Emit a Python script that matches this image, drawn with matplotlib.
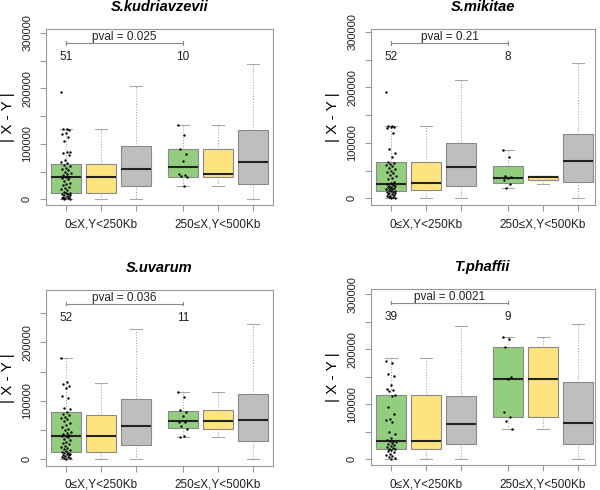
import numpy as np
import matplotlib
matplotlib.use('Agg')
import matplotlib.pyplot as plt
from matplotlib import transforms
from matplotlib.ticker import MultipleLocator, FuncFormatter

plt.rcParams['font.family'] = ['Liberation Sans', 'DejaVu Sans']

# Panel info
species = ['S.kudriavzevii', 'S.mikitae', 'S.uvarum', 'T.phaffii']
group_labels = ['0≤X,Y<250Kb', '250≤X,Y<500Kb']
pvals = ['0.025', '0.21', '0.036', '0.0021']
counts = [(51, 10), (52, 8), (52, 11), (39, 9)]
ylims = [(-10300, 306300), (-12100, 304500), (-11500, 289900), (-10900, 309700)]

# Box stats (whislo, q1, med, q3, whishi): green, yellow, gray for each group
kud_boxes = [(0, 11400, 39700, 64300, 126800), (0, 11400, 39700, 64300, 126800),
             (0, 23400, 55300, 96200, 205000),
             (23400, 40900, 57700, 90200, 134600), (23400, 40900, 46300, 90200, 134600),
             (0, 27600, 66700, 124400, 244000)]
mik_boxes = [(0, 13800, 25200, 65400, 130800), (1200, 15000, 27000, 65400, 130800),
             (0, 22200, 55800, 99000, 213000),
             (19200, 28200, 37200, 57600, 87000), (25200, 32400, 38400, 40200, 40200),
             (0, 29400, 67200, 115800, 243000)]
uva_boxes = [(0, 12600, 39500, 80700, 173900), (0, 12600, 38900, 74900, 131000),
             (0, 24000, 57200, 103500, 223000),
             (37800, 53800, 65200, 82900, 115500), (37800, 50900, 65200, 84100, 115500),
             (0, 30300, 66400, 111000, 232200)]
pha_boxes = [(0, 18800, 32800, 116000, 184000), (0, 18800, 32800, 116000, 184000),
             (0, 27900, 63200, 114200, 243000),
             (54100, 77200, 145200, 204700, 221700), (54100, 77200, 145200, 204700, 221700),
             (0, 26700, 65600, 140300, 246600)]

# Individual points of the green boxes (thousands)
kud_pts_1 = [194, 127, 126, 124, 120, 117, 113, 105, 86, 85, 83, 80, 71, 68, 66, 62, 60, 57,
             55, 52, 50, 47, 45, 43, 41, 40, 38, 36, 33, 30, 27, 25, 22, 20, 18, 16, 14, 12,
             11, 10, 9, 8, 7, 6, 5, 4, 3, 2, 1.5, 1, 0.5]
kud_pts_2 = [134.6, 116.6, 90.2, 81.1, 68.5, 45.7, 44.5, 42.7, 40.3, 23.4]
mik_pts_1 = [191, 131, 130, 129, 128, 126, 117, 88, 81, 75, 65, 63, 62, 60, 58, 55, 52, 50,
             47, 45, 42, 40, 37, 34, 30, 27, 25, 24, 23, 22, 21, 20, 19, 18, 17, 16, 15, 14,
             13, 12, 11, 10, 9, 8, 7, 6, 5, 4, 3, 2, 1, 0.5]
mik_pts_2 = [87, 73.8, 40.5, 38.4, 36, 32.4, 25, 19.2]
uva_pts_1 = [174, 132, 129, 125, 122, 108, 104, 87, 85, 80, 78, 75, 72, 70, 68, 65, 62, 58,
             55, 52, 50, 47, 45, 43, 41, 40, 39, 37, 35, 33, 30, 28, 25, 23, 21, 19, 17, 15,
             13, 12, 11, 10, 9, 8, 7, 6, 5, 4, 3, 2, 1, 0.5]
uva_pts_2 = [115.5, 107, 84, 81, 73.8, 64, 63, 57, 51, 39.5, 37.8]
pha_pts_1 = [179, 175, 154, 152, 134, 127, 125, 123, 117, 115, 94, 82, 72, 71, 67, 50, 45,
             38, 35, 33, 32, 31, 30, 28, 26, 24, 22, 20, 19, 18, 16, 14, 12, 10, 8, 6, 4, 2, 0.5]
pha_pts_2 = [221.7, 218.7, 204.7, 148.8, 145.2, 86, 77.2, 69, 54.1]

all_boxes = [kud_boxes, mik_boxes, uva_boxes, pha_boxes]
all_pts = [(kud_pts_1, kud_pts_2), (mik_pts_1, mik_pts_2),
           (uva_pts_1, uva_pts_2), (pha_pts_1, pha_pts_2)]

box_colors = ['#93cd7e', '#ffe37f', '#bebebe'] * 2
positions = [1, 2, 3, 4.34, 5.34, 6.34]
frame_col = '#9a9a9a'

W, H = 600, 490
# axes rectangles in pixels: left, top, right, bottom
rects = [(46, 29.3, 273, 205), (371, 29.3, 595, 205),
         (46, 290, 273, 465.7), (371, 289, 595, 465)]

fig = plt.figure(figsize=(6, 4.9), dpi=100)

for i in range(4):
    l, t, r, b = rects[i]
    ax = fig.add_axes([l / W, 1 - b / H, (r - l) / W, (b - t) / H])

    stats = []
    for s in all_boxes[i]:
        stats.append(dict(whislo=s[0], q1=s[1], med=s[2], q3=s[3], whishi=s[4], fliers=[]))
    bp = ax.bxp(stats, positions=positions, widths=0.86, patch_artist=True,
                showfliers=False,
                boxprops=dict(edgecolor='#8a8a8a', linewidth=0.8),
                whiskerprops=dict(color='#a8a8a8', linewidth=0.8, linestyle=(0, (1, 1.5))),
                capprops=dict(color='#a8a8a8', linewidth=0.8),
                medianprops=dict(color='#222222', linewidth=1.5))
    for patch, c in zip(bp['boxes'], box_colors):
        patch.set_facecolor(c)
    for cap in bp['caps']:
        x0, x1 = cap.get_xdata()
        xc = (x0 + x1) / 2
        cap.set_xdata([xc - 0.17, xc + 0.17])

    # jittered points over green boxes (deterministic golden-ratio jitter)
    for g, pts in enumerate(all_pts[i]):
        y = np.array(pts) * 1000
        k = np.arange(len(y))
        jit = ((k * 0.618034) % 1 - 0.5) * 0.28
        ax.scatter(positions[g * 3] + jit, y, s=3, color='black', zorder=5, linewidths=0)

    ax.set_xlim(1 - 20 / 35, 1 + (r - l - 20) / 35)
    ax.set_ylim(*ylims[i])

    ax.set_xticks(positions)
    ax.set_xticklabels(['', group_labels[0], '', '', group_labels[1], ''], fontsize=8.5)
    ax.yaxis.set_major_locator(MultipleLocator(50000))
    ax.yaxis.set_major_formatter(FuncFormatter(
        lambda v, p: '%d' % v if abs(v % 100000) < 1 else ''))
    ax.tick_params(axis='both', colors=frame_col, labelcolor='#222222', length=4, width=0.8)
    ax.tick_params(axis='x', pad=5.5)
    ax.tick_params(axis='y', labelsize=8, pad=6)
    plt.setp(ax.get_yticklabels(), rotation=90, va='center')
    for sp in ax.spines.values():
        sp.set_color(frame_col)
        sp.set_linewidth(0.8)

    ax.set_ylabel('| X - Y |', fontsize=11)
    ax.yaxis.set_label_coords(-31 / (r - l), 0.5)
    ax.set_title(species[i], fontsize=10.5, fontweight='bold', fontstyle='italic', pad=13)

    # p-value bracket and counts
    tr = transforms.blended_transform_factory(ax.transData, ax.transAxes)
    x1, x2 = positions[0], positions[3]
    ax.plot([x1, x2], [0.923, 0.923], color='#8a8a8a', lw=0.8, transform=tr)
    for xx in (x1, x2):
        ax.plot([xx, xx], [0.913, 0.933], color='#8a8a8a', lw=0.8, transform=tr)
    ax.text((x1 + x2) / 2, 0.955, 'pval = ' + pvals[i], ha='center', va='center',
            fontsize=8.5, color='#222222', transform=tr)
    ax.text(x1, 0.841, str(counts[i][0]), ha='center', va='center', fontsize=8.5,
            color='#222222', transform=tr)
    ax.text(x2, 0.841, str(counts[i][1]), ha='center', va='center', fontsize=8.5,
            color='#222222', transform=tr)

fig.savefig('out.png', dpi=100)
